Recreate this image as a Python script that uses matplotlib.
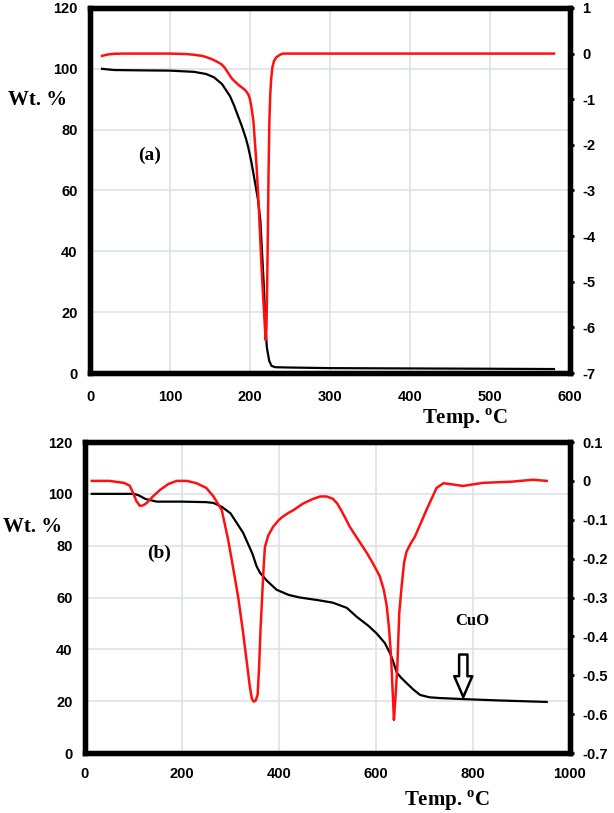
import matplotlib
matplotlib.use("Agg")
import matplotlib.pyplot as plt

# ---- panel (a) ----
temp_a = [15, 30, 60, 100, 130, 145, 155, 165, 175, 180, 185, 190, 195, 198, 202, 206, 210,
          213, 215, 217, 219, 221, 224, 227, 232, 250, 300, 400, 500, 580]
wt_a = [100, 99.6, 99.5, 99.4, 99, 98.3, 97.2, 95, 91, 88, 84.5, 81, 77, 74, 69, 63, 57,
        50, 40, 30, 18, 8.5, 4, 2.3, 1.9, 1.8, 1.6, 1.5, 1.4, 1.3]

dtemp_a = [15, 22, 30, 40, 100, 120, 130, 140, 146, 152, 158, 164, 168, 171, 174, 177.5,
           181, 184, 188, 192, 195, 198, 200, 202, 204.2, 206, 208.3, 210.5, 212.5, 214.5,
           216.7, 218.3, 219.6, 220.6, 221.5, 222.3, 223.2, 224.2, 225.3, 226.5, 228, 230,
           233, 237, 241, 300, 580]
dtg_a = [-0.05, -0.02, -0.005, 0, 0, -0.01, -0.025, -0.05, -0.08, -0.12, -0.17, -0.23,
         -0.3, -0.38, -0.46, -0.55, -0.61, -0.66, -0.72, -0.77, -0.82, -0.9, -1.0, -1.2,
         -1.47, -1.9, -2.49, -3.2, -3.95, -4.7, -5.4, -5.9, -6.28, -6.0, -5.0, -3.95,
         -2.6, -1.5, -0.9, -0.55, -0.3, -0.16, -0.08, -0.03, 0, 0, 0]

# ---- panel (b) ----
temp_b = [14, 60, 100, 110, 125, 148, 200, 250, 265, 282, 300, 326, 345, 354, 361, 375, 395,
          420, 443, 480, 511, 540, 560, 585, 602, 618, 629, 636, 643, 652, 663, 677, 691,
          710, 732, 780, 850, 952]
wt_b = [100, 100, 100, 99.5, 98, 97, 97, 96.8, 96.5, 95, 92.5, 85, 77, 72, 69.5, 66.5, 63,
        61, 60, 59, 58, 56, 52.6, 49, 46, 42.5, 38.5, 35, 31, 29, 27, 24.5, 22.4,
        21.5, 21.2, 20.8, 20.3, 19.7]

dtemp_b = [14, 50, 80, 92, 99, 106, 113, 120, 127, 140, 155, 172, 189, 210, 230, 250, 265,
           282, 295, 305, 316, 326, 334, 340, 344, 348, 352, 356, 359, 362, 365, 368, 371,
           378, 388, 400, 410, 420, 430, 450, 471, 485, 498, 511, 520, 528, 537, 546, 560,
           581, 595, 608, 616, 622, 627, 631, 634, 637, 640, 644, 648, 653, 658, 663, 672,
           680, 692, 704, 715, 725, 739, 752, 779, 821, 880, 924, 952]
dtg_b = [0, 0, -0.005, -0.012, -0.03, -0.052, -0.064, -0.063, -0.057, -0.04, -0.023, -0.008,
         0, 0, -0.006, -0.018, -0.04, -0.075, -0.15, -0.22, -0.3, -0.39, -0.47, -0.53,
         -0.56, -0.568, -0.565, -0.55, -0.48, -0.38, -0.306, -0.23, -0.17, -0.14, -0.118,
         -0.1, -0.09, -0.082, -0.075, -0.058, -0.046, -0.04, -0.04, -0.046, -0.058, -0.075,
         -0.096, -0.118, -0.145, -0.185, -0.215, -0.246, -0.28, -0.32, -0.38, -0.45, -0.53,
         -0.615, -0.56, -0.478, -0.34, -0.27, -0.21, -0.182, -0.16, -0.144, -0.11, -0.075,
         -0.045, -0.018, -0.006, -0.008, -0.013, -0.005, -0.002, 0.003, 0]

plt.rcParams['font.family'] = ['Liberation Sans', 'DejaVu Sans']
plt.rcParams['axes.unicode_minus'] = False
plt.rcParams['mathtext.fontset'] = 'custom'
plt.rcParams['mathtext.rm'] = 'Liberation Serif:bold'

GRID = '#d8e0e8'
RED = '#ff1010'
SERIF = 'Liberation Serif'


def style(ax, ax2, tick_weight):
    for a in (ax, ax2):
        for s in a.spines.values():
            s.set_linewidth(3.8)
            s.set_color('black')
    ax.grid(True, color=GRID, linewidth=1.1)
    ax.set_axisbelow(True)
    ax.tick_params(axis='both', length=0, labelsize=10.5)
    ax2.tick_params(axis='y', length=3, width=2, labelsize=10.5, pad=6)
    for lab in ax.get_xticklabels() + ax.get_yticklabels() + ax2.get_yticklabels():
        lab.set_fontweight(tick_weight)


fig = plt.figure(figsize=(6.14, 8.13), dpi=100)

# top panel
ax1 = fig.add_axes([0.1466, 0.5412, 0.7817, 0.4490])
ax1b = ax1.twinx()
ax1.plot(temp_a, wt_a, color='black', lw=1.6, zorder=3)
ax1b.plot(dtemp_a, dtg_a, color=RED, lw=1.8)
ax1.set_xlim(0, 600)
ax1.set_ylim(0, 120)
ax1.set_xticks(range(0, 601, 100))
ax1.set_yticks(range(0, 121, 20))
ax1b.set_ylim(-7, 1)
ax1b.set_yticks(range(-7, 2))
ax1.tick_params(axis='x', pad=12)
ax1.tick_params(axis='y', pad=9)
style(ax1, ax1b, 'bold')
ax1.text(75, 71.5, '(a)', family=SERIF, fontweight='bold', fontsize=14,
         ha='center', va='center')

# bottom panel
ax2 = fig.add_axes([0.1384, 0.0738, 0.7899, 0.3825])
ax2b = ax2.twinx()
ax2.plot(temp_b, wt_b, color='black', lw=1.6, zorder=3)
ax2b.plot(dtemp_b, dtg_b, color=RED, lw=1.8)
ax2.set_xlim(0, 1000)
ax2.set_ylim(0, 120)
ax2.set_xticks(range(0, 1001, 200))
ax2.set_yticks(range(0, 121, 20))
ax2b.set_ylim(-0.7, 0.1)
ax2b.set_yticks([-0.7, -0.6, -0.5, -0.4, -0.3, -0.2, -0.1, 0, 0.1])
ax2b.set_yticklabels(['-0.7', '-0.6', '-0.5', '-0.4', '-0.3', '-0.2', '-0.1', '0', '0.1'])
ax2.tick_params(axis='x', pad=10)
ax2.tick_params(axis='y', pad=9)
style(ax2, ax2b, 'bold')
ax2.text(152, 77, '(b)', family=SERIF, fontweight='bold', fontsize=14,
         ha='center', va='center')
ax2.text(798, 51, 'CuO', family=SERIF, fontweight='bold', fontsize=12,
         ha='center', va='center')
ax2.annotate('', xy=(780, 21.6), xytext=(780, 38),
             arrowprops=dict(arrowstyle='simple,head_width=0.65,tail_width=0.3,head_length=0.75',
                             fc='white', ec='black', lw=1.8, mutation_scale=20,
                             shrinkA=0, shrinkB=0))

# axis titles
fig.text(38 / 614, 1 - 100 / 813, 'Wt. %', family=SERIF, fontweight='bold',
         fontsize=15, ha='center', va='center')
fig.text(33 / 614, 1 - 527 / 813, 'Wt. %', family=SERIF, fontweight='bold',
         fontsize=15, ha='center', va='center')
fig.text(465 / 614, 1 - 419 / 813, r'Temp. $^{\rm o}$C', family=SERIF, fontweight='bold',
         fontsize=15, ha='center', va='center')
fig.text(447 / 614, 1 - 801 / 813, r'Temp. $^{\rm o}$C', family=SERIF, fontweight='bold',
         fontsize=15, ha='center', va='center')

fig.savefig('out.png', dpi=100)
